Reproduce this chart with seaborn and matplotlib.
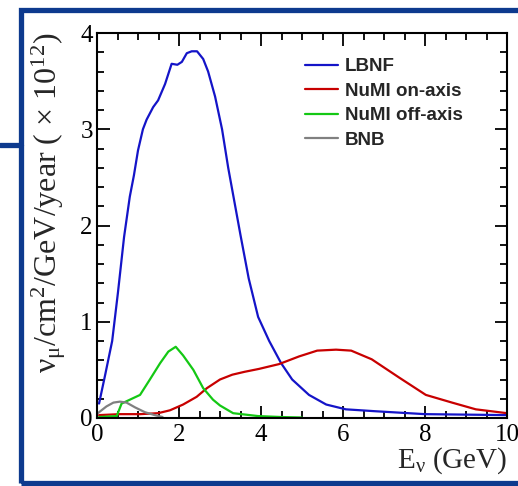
import pandas as pd
import matplotlib
matplotlib.use("Agg")
import matplotlib.pyplot as plt
from matplotlib.patches import Rectangle
from matplotlib.lines import Line2D
from matplotlib.ticker import MultipleLocator
import seaborn as sns

# ---------------------------------------------------------------
# flux curves (E in GeV, flux in 1e12 units)
# ---------------------------------------------------------------
lbnf_e = [0.05, 0.2, 0.37, 0.51, 0.66, 0.8, 0.9, 1.0, 1.12, 1.21, 1.37, 1.49,
          1.66, 1.82, 1.96, 2.07, 2.19, 2.31, 2.44, 2.59, 2.71, 2.88, 3.05, 3.2,
          3.35, 3.5, 3.7, 3.93, 4.2, 4.49, 4.76, 5.17, 5.59, 6.07, 6.8, 8.0, 10.0]
lbnf_flux = [0.15, 0.45, 0.8, 1.3, 1.88, 2.3, 2.52, 2.78, 3.0, 3.1, 3.23, 3.3,
             3.47, 3.68, 3.67, 3.70, 3.79, 3.81, 3.81, 3.73, 3.6, 3.34, 3.0, 2.6,
             2.25, 1.9, 1.45, 1.05, 0.8, 0.57, 0.40, 0.24, 0.14, 0.09, 0.07, 0.04, 0.03]

numi_on_e = [0.05, 0.56, 1.05, 1.49, 1.78, 2.1, 2.43, 2.68, 3.0, 3.3, 3.6, 3.95,
             4.44, 4.93, 5.37, 5.83, 6.2, 6.7, 7.37, 8.02, 8.66, 9.24, 10.0]
numi_on_flux = [0.03, 0.04, 0.04, 0.05, 0.08, 0.14, 0.22, 0.31, 0.40, 0.45, 0.48, 0.51,
                0.56, 0.64, 0.70, 0.71, 0.70, 0.61, 0.42, 0.24, 0.16, 0.09, 0.05]

numi_off_e = [0.05, 0.48, 0.6, 0.8, 1.05, 1.29, 1.54, 1.74, 1.92, 2.1, 2.35, 2.59,
              2.83, 3.0, 3.32, 3.93, 4.5, 5.0]
numi_off_flux = [0.01, 0.02, 0.15, 0.19, 0.24, 0.40, 0.57, 0.69, 0.74, 0.65, 0.5, 0.31,
                 0.19, 0.13, 0.05, 0.02, 0.01, 0.005]

bnb_e = [0.02, 0.23, 0.4, 0.56, 0.72, 0.93, 1.17, 1.41, 1.6]
bnb_flux = [0.05, 0.12, 0.16, 0.17, 0.16, 0.11, 0.06, 0.03, 0.01]

beams = ["LBNF", "NuMI on-axis", "NuMI off-axis", "BNB"]
colors = ["#1414c8", "#c80000", "#14c814", "#808080"]

df = pd.concat([
    pd.DataFrame({"E": lbnf_e, "flux": lbnf_flux, "beam": "LBNF"}),
    pd.DataFrame({"E": numi_on_e, "flux": numi_on_flux, "beam": "NuMI on-axis"}),
    pd.DataFrame({"E": numi_off_e, "flux": numi_off_flux, "beam": "NuMI off-axis"}),
    pd.DataFrame({"E": bnb_e, "flux": bnb_flux, "beam": "BNB"}),
], ignore_index=True)

sns.set_theme(style="ticks")
plt.rcParams["font.family"] = ["Liberation Serif", "DejaVu Serif"]
plt.rcParams["mathtext.fontset"] = "custom"
plt.rcParams["mathtext.rm"] = "Liberation Serif"
plt.rcParams["mathtext.it"] = "Liberation Serif:italic"

fig = plt.figure(figsize=(5.18, 4.86), dpi=100)
ax = fig.add_axes([97 / 518, 1 - 418 / 486, 410 / 518, 385 / 486])

sns.lineplot(data=df, x="E", y="flux", hue="beam", hue_order=beams,
             palette=dict(zip(beams, colors)), estimator=None, sort=False,
             linewidth=1.6, ax=ax, legend=False, clip_on=False)

ax.set_xlim(0, 10)
ax.set_ylim(0, 4)
ax.xaxis.set_major_locator(MultipleLocator(2))
ax.xaxis.set_minor_locator(MultipleLocator(0.5))
ax.yaxis.set_major_locator(MultipleLocator(1))
ax.yaxis.set_minor_locator(MultipleLocator(0.2))
ax.tick_params(which="both", direction="in", top=True, right=True,
               width=1.3, colors="black", labelsize=18,
               labelfontfamily="Liberation Serif")
ax.tick_params(which="major", length=9)
ax.tick_params(which="minor", length=5)
ax.tick_params(axis="x", pad=4)
ax.tick_params(axis="y", pad=3)
for sp in ax.spines.values():
    sp.set_linewidth(1.5)
    sp.set_color("black")

ax.set_xlabel(r"E$_{\mathrm{\nu}}$ (GeV)", fontsize=21, loc="right", labelpad=0)
ax.set_ylabel(r"$\mathrm{\nu}_{\mathrm{\mu}}$/cm$^{2}$/GeV/year ( $\times$ 10$^{12}$)",
              fontsize=23, loc="top", labelpad=9)

handles = [Line2D([], [], color=c, lw=1.6) for c in colors]
leg = ax.legend(handles, beams, loc="upper left", bbox_to_anchor=(0.507, 0.935),
                frameon=False, handlelength=1.76, handletextpad=0.37,
                labelspacing=0.4, borderaxespad=0, borderpad=0,
                prop={"family": "Liberation Sans", "weight": "bold", "size": 13.5})

# slide frame around the chart
frame_col = "#0d3a8e"
fig.add_artist(Rectangle((20.5 / 518, 3 / 486), 0.99, 1 - 13.5 / 486,
                         transform=fig.transFigure, fill=False,
                         edgecolor=frame_col, linewidth=3.8))
fig.add_artist(Line2D([0, 20.5 / 518], [1 - 145 / 486, 1 - 145 / 486],
                      transform=fig.transFigure, color=frame_col, linewidth=3.8))

fig.savefig("out.png", dpi=100)
